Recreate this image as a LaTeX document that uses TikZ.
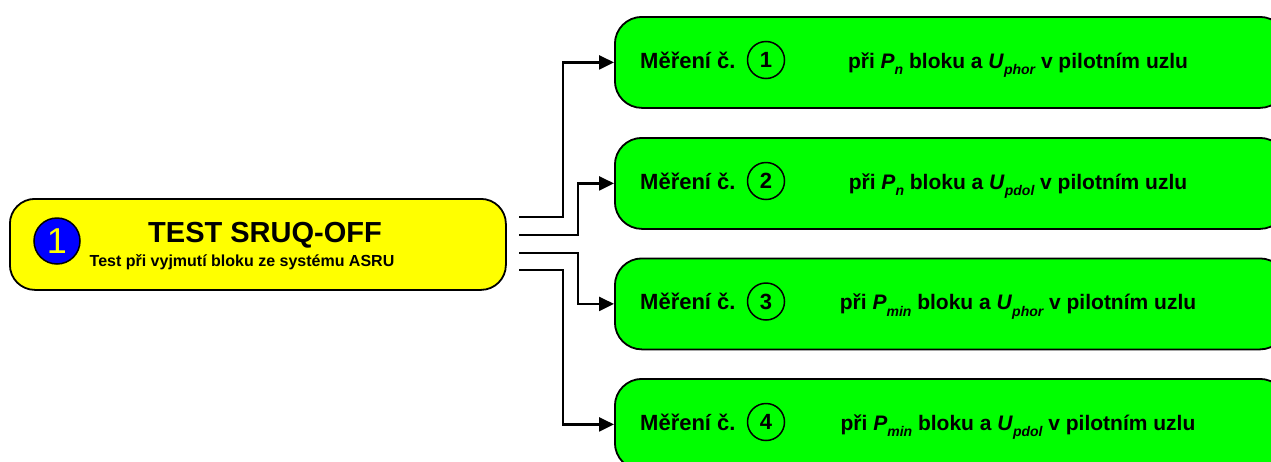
\documentclass[tikz,border=0pt]{standalone}
\usepackage{fontspec}
\setmainfont{Liberation Sans}
\usetikzlibrary{arrows.meta}
\definecolor{ygold}{HTML}{FFFF00}
\definecolor{lgreen}{HTML}{00FF00}
\definecolor{dblue}{HTML}{0000FF}
\newcommand{\sbs}[1]{\raisebox{-0.32em}{\fontsize{14}{14}\selectfont\bfseries\itshape #1}}
\tikzset{
  ybox/.style={draw=black, line width=1.8pt, fill=ygold, rounded corners=25pt, minimum width=496pt, minimum height=91pt, inner sep=0pt, anchor=north west},
  gbox/.style={draw=black, line width=1.8pt, fill=lgreen, rounded corners=27pt, minimum width=672pt, minimum height=91pt, inner sep=0pt, anchor=north west},
  conn/.style={line width=2.4pt, -{Triangle[length=15pt,width=14pt]}},
  gtext/.style={font=\fontsize{21}{21}\selectfont\bfseries, inner sep=0pt, anchor=base},
  numc/.style={draw=black, line width=1.5pt, circle, minimum size=37pt, inner sep=0pt, font=\fontsize{22}{22}\selectfont\bfseries},
}
\begin{document}
\begin{tikzpicture}[x=1pt,y=-1pt]
\useasboundingbox (0,0) rectangle (1271,461);
\clip (0,0) rectangle (1271,461);
% main yellow box
\node[ybox] (main) at (9,198) {};
\node[draw=black, line width=1.5pt, circle, fill=dblue, minimum size=46pt, inner sep=0pt, text=ygold, font=\fontsize{36}{36}\selectfont] (c0) at (57,241) {1};
\node[anchor=base, inner sep=0pt, font=\fontsize{29}{29}\selectfont\bfseries] (title) at (265,242) {TEST SRUQ-OFF};
\node[anchor=base, inner sep=0pt, font=\fontsize{16}{16}\selectfont\bfseries] (sub) at (242,266) {Test při vyjmutí bloku ze systému ASRU};
% green boxes
\node[gbox] (m1) at (614,16) {};
\node[gbox] (m2) at (614,137) {};
\node[gbox] (m3) at (614,257.5) {};
\node[gbox] (m4) at (614,378) {};
% texts
\foreach \i/\yy in {1/68, 2/189, 3/309.5, 4/430} {
  \node[gtext, anchor=base west, font=\fontsize{22}{22}\selectfont\bfseries] (l\i) at (640,\yy) {Měření č.};
  \node[numc] (n\i) at (766,\yy-8) {\i};
}
\node[gtext] (t1) at (1018,68) {při \textit{P}\sbs{n} bloku a \textit{U}\sbs{phor} v pilotním uzlu};
\node[gtext] (t2) at (1018,189) {při \textit{P}\sbs{n} bloku a \textit{U}\sbs{pdol} v pilotním uzlu};
\node[gtext] (t3) at (1018,309.5) {při \textit{P}\sbs{min} bloku a \textit{U}\sbs{phor} v pilotním uzlu};
\node[gtext] (t4) at (1018,430) {při \textit{P}\sbs{min} bloku a \textit{U}\sbs{pdol} v pilotním uzlu};
% connectors
\coordinate (s1) at (519,217); \coordinate (j1) at (563,217);
\coordinate (s2) at (519,235); \coordinate (j2) at (578,235);
\coordinate (s3) at (519,253); \coordinate (j3) at (578,253);
\coordinate (s4) at (519,270); \coordinate (j4) at (563,270);
\draw[conn] (s1) -- (j1) |- (m1.west);
\draw[conn] (s2) -- (j2) |- (m2.west);
\draw[conn] (s3) -- (j3) |- (m3.west);
\draw[conn] (s4) -- (j4) |- (m4.west);
\end{tikzpicture}
\end{document}
